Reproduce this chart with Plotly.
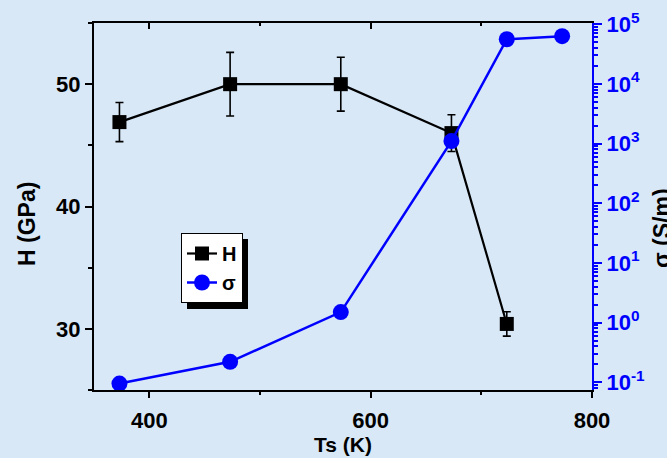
import plotly.graph_objects as go

# Substrate temperature (K)
ts_h = [373, 473, 573, 673, 723]
hardness = [46.9, 50.0, 50.0, 46.0, 30.4]
hardness_err = [1.6, 2.6, 2.2, 1.5, 1.0]

ts_sigma = [373, 473, 573, 673, 723, 773]
sigma = [0.095, 0.22, 1.5, 1.1e3, 5.6e4, 6.3e4]

x_ticks = [400, 600, 800]
h_ticks = [30, 40, 50]
sigma_exp = [-1, 0, 1, 2, 3, 4, 5]

BG = "#d8e8f7"
BLUE = "#0000ff"
FONT = "Liberation Sans, Arial, sans-serif"

# plot-area geometry in pixels, used to place the legend, titles and shadow
W, H = 667, 458
ML, MR, MT, MB = 94, 75, 23, 68
PW, PH = W - ML - MR, H - MT - MB


def px_to_paper_x(px):
    return (px - ML) / PW


def px_to_paper_y(py):
    return (H - MB - py) / PH


fig = go.Figure()

fig.add_trace(go.Scatter(
    x=ts_h, y=hardness, name="<b>H</b>", mode="lines+markers",
    line=dict(color="black", width=2.2),
    marker=dict(symbol="square", size=14, color="black"),
    error_y=dict(type="data", array=hardness_err, color="black",
                 thickness=1.6, width=4),
    yaxis="y", xaxis="x",
))

fig.add_trace(go.Scatter(
    x=ts_sigma, y=sigma, name="<b>σ</b>", mode="lines+markers",
    line=dict(color=BLUE, width=2.5),
    marker=dict(symbol="circle", size=16, color=BLUE),
    yaxis="y2", xaxis="x",
))

# invisible trace so the top axis (inward ticks) is drawn
fig.add_trace(go.Scatter(
    x=[ts_h[0]], y=[hardness[0]], xaxis="x2", yaxis="y",
    mode="markers", marker=dict(opacity=0), showlegend=False, hoverinfo="skip",
))

minor_log = [k * 10.0 ** n for n in range(-2, 6) for k in range(2, 10)]

fig.update_layout(
    width=W, height=H,
    margin=dict(l=ML, r=MR, t=MT, b=MB, autoexpand=False),
    paper_bgcolor=BG, plot_bgcolor=BG,
    font=dict(family=FONT, size=22, color="black"),
    showlegend=True,
    legend=dict(
        x=px_to_paper_x(181), y=px_to_paper_y(233),
        xanchor="left", yanchor="top",
        bgcolor="white", bordercolor="black", borderwidth=1,
        font=dict(family=FONT, size=20, color="black"),
        itemwidth=30, tracegroupgap=0,
    ),
    xaxis=dict(
        range=[350, 800], tickvals=x_ticks, automargin=False,
        ticks="outside", ticklen=6, tickwidth=2, tickcolor="black",
        minor=dict(dtick=100, tick0=400, ticks="outside", ticklen=3,
                   tickwidth=2, tickcolor="black"),
        showline=True, linecolor="black", linewidth=2,
        showgrid=False, zeroline=False, ticklabelstandoff=4,
        tickfont=dict(family=FONT, size=22, color="black", weight="bold"),
    ),
    xaxis2=dict(
        range=[350, 800], overlaying="x", side="top", matches="x",
        tickvals=x_ticks, ticks="inside", ticklen=6, tickwidth=2,
        tickcolor="black", automargin=False,
        minor=dict(dtick=100, tick0=400, ticks="inside", ticklen=3,
                   tickwidth=2, tickcolor="black"),
        showticklabels=False, showline=True, linecolor="black", linewidth=2,
        showgrid=False, zeroline=False,
    ),
    yaxis=dict(
        range=[25, 55], tickvals=h_ticks, automargin=False,
        ticks="outside", ticklen=7, tickwidth=2, tickcolor="black",
        minor=dict(dtick=5, tick0=25, ticks="outside", ticklen=4,
                   tickwidth=2, tickcolor="black"),
        showline=True, linecolor="black", linewidth=2,
        showgrid=False, zeroline=False,
        tickfont=dict(family=FONT, size=22, color="black", weight="bold"),
    ),
    yaxis2=dict(
        type="log", range=[-1.13, 5.02], overlaying="y", side="right",
        tickvals=[10.0 ** e for e in sigma_exp],
        ticktext=[f"10<sup>{e}</sup>" for e in sigma_exp],
        ticks="outside", ticklen=8, tickwidth=2, tickcolor=BLUE,
        minor=dict(tickvals=minor_log, ticks="outside", ticklen=4,
                   tickwidth=1.5, tickcolor=BLUE),
        showline=True, linecolor=BLUE, linewidth=2,
        showgrid=False, zeroline=False, automargin=False,
        tickfont=dict(family=FONT, size=22, color=BLUE, weight="bold"),
    ),
    annotations=[
        dict(text="<b>Ts (K)</b>", xref="paper", yref="paper",
             x=px_to_paper_x(343), y=px_to_paper_y(445),
             xanchor="center", yanchor="middle", borderpad=0,
             showarrow=False, font=dict(family=FONT, size=21, color="black")),
        dict(text="<b>H (GPa)</b>", textangle=-90, xref="paper", yref="paper",
             x=px_to_paper_x(27), y=px_to_paper_y(224),
             xanchor="center", yanchor="middle",
             showarrow=False, font=dict(family=FONT, size=23, color="black")),
        dict(text="<b>σ (S/m)</b>", textangle=-90, xref="paper", yref="paper",
             x=px_to_paper_x(662), y=px_to_paper_y(228),
             xanchor="center", yanchor="middle",
             showarrow=False, font=dict(family=FONT, size=23, color="black")),
    ],
    shapes=[
        # drop shadow behind the legend box
        dict(type="rect", xref="paper", yref="paper",
             x0=px_to_paper_x(187), x1=px_to_paper_x(248),
             y0=px_to_paper_y(309), y1=px_to_paper_y(239),
             fillcolor="black", line=dict(width=0), layer="above"),
    ],
)

fig.write_html("out.html")
